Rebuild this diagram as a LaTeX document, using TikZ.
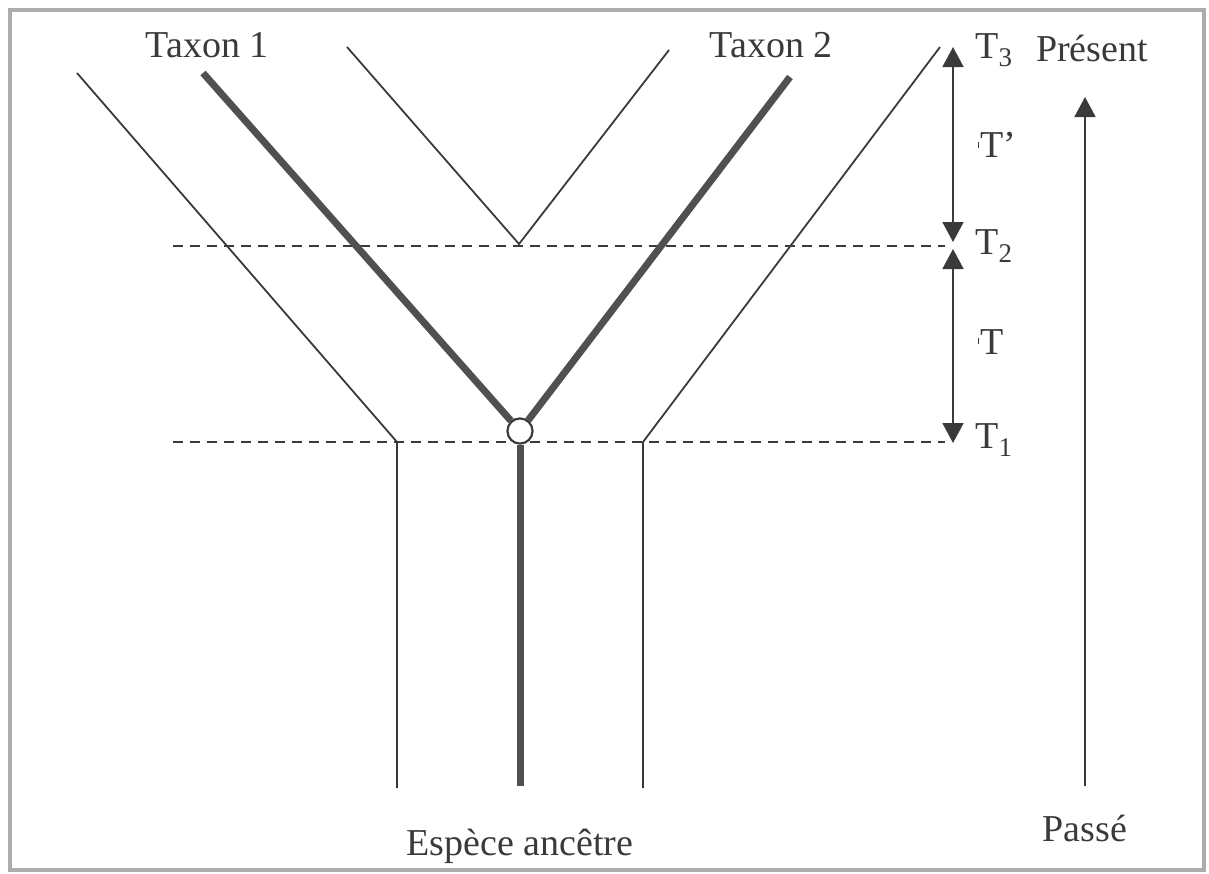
\documentclass[tikz,border=0pt]{standalone}
\usepackage{fontspec}
\setmainfont{Liberation Serif}
\usetikzlibrary{arrows.meta}
\definecolor{ink}{HTML}{3A3A3A}
\definecolor{thick}{HTML}{505050}
\newcommand{\subnum}[1]{\raisebox{-4pt}{\fontsize{13.5}{14}\selectfont #1}}
\newcommand{\tickmark}{\raisebox{5pt}{\rule{0.5pt}{3pt}}\hspace{0.6pt}}
\tikzset{
  thinline/.style={draw=ink, line width=0.9pt},
  thickline/.style={draw=thick, line width=3.5pt},
  dashline/.style={draw=ink, line width=0.8pt, dash pattern=on 5pt off 3.5pt},
  timearrow/.style={draw=ink, line width=0.9pt, {Triangle[width=10.5pt,length=10pt]}-{Triangle[width=10.5pt,length=10pt]}},
  uparrow/.style={draw=ink, line width=0.9pt, -{Triangle[width=10.5pt,length=10pt]}},
  lbl/.style={font=\fontsize{19}{21}\selectfont, text=ink, inner sep=0pt}
}
\begin{document}
\begin{tikzpicture}[x=0.5pt,y=-0.5pt]
\useasboundingbox (0,0) rectangle (1209,873);
\draw[gray!65, line width=2.2pt] (10,10) rectangle (1204,870);
% coordinates
\coordinate (L1) at (77,73);   \coordinate (L2) at (397,442); \coordinate (L3) at (397,788);
\coordinate (R1) at (940,47);  \coordinate (R2) at (643,442); \coordinate (R3) at (643,788);
\coordinate (V1) at (347,47);  \coordinate (V2) at (519,244); \coordinate (V3) at (669,50);
\coordinate (A1) at (203,73);  \coordinate (A2) at (790,77);   \coordinate (A3) at (520,786);
\coordinate (D2a) at (173,246); \coordinate (D2b) at (945,246);
\coordinate (D1a) at (173,442); \coordinate (D1b) at (945,442);
\coordinate (U3) at (953,47); \coordinate (U2a) at (953,242); \coordinate (U2b) at (953,249); \coordinate (U1) at (953,443);
\coordinate (P0) at (1085,786); \coordinate (P1) at (1085,97);
% dashed time lines
\draw[dashline] (D2a) -- (D2b);
\draw[dashline] (D1a) -- (D1b);
% thin lineages
\draw[thinline] (L1) -- (L2) -- (L3);
\draw[thinline] (R1) -- (R2) -- (R3);
\draw[thinline] (V1) -- (V2) -- (V3);
% thick lineages
\node[circle, draw=ink, fill=white, line width=1pt, minimum size=12.5pt, inner sep=0pt] (N) at (520,431) {};
\draw[thickline] (A1) -- (N);
\draw[thickline] (A2) -- (N);
\draw[thickline] (N.south) -- (A3);
\node[circle, draw=ink, fill=white, line width=1pt, minimum size=12.5pt, inner sep=0pt] at (N) {};
% time arrows
\draw[timearrow] (U2a) -- (U3);
\draw[timearrow] (U1) -- (U2b);
\draw[uparrow] (P0) -- (P1);
% labels
\node[lbl] (tx1) at (207,45) {Taxon 1};
\node[lbl] (tx2) at (771,45) {Taxon 2};
\node[lbl, anchor=west] (t3) at (975,50) {T\subnum{3}};
\node[lbl, anchor=west] (t2) at (975,246) {T\subnum{2}};
\node[lbl, anchor=west] (t1) at (975,440) {T\subnum{1}};
\node[lbl, anchor=west] (dtp) at (978,145) {\tickmark T’};
\node[lbl, anchor=west] (dt) at (978,342) {\tickmark T};
\node[lbl] (pres) at (1092,48) {Présent};
\node[lbl] (pass) at (1085,828) {Passé};
\node[lbl] (anc) at (520,846) {Espèce ancêtre};
\end{tikzpicture}
\end{document}
